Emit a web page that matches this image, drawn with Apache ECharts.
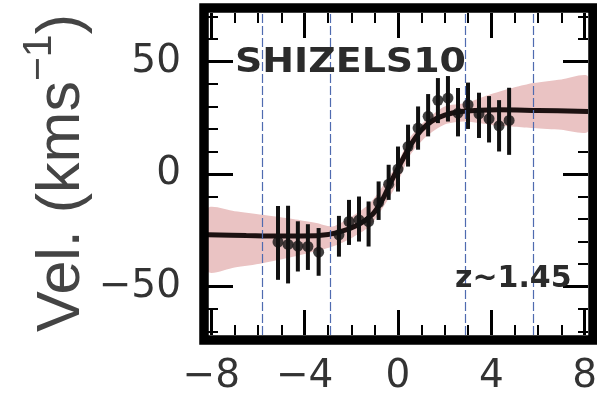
<!DOCTYPE html>
<html><head><meta charset="utf-8">
<script src="https://cdn.jsdelivr.net/npm/echarts@6/dist/echarts.min.js"></script>
<style>html,body{margin:0;padding:0;background:#fff}#c{width:597px;height:396px}</style>
</head><body><div id="c"></div>
<script>
// Tick values
const xMajorTicks = [-8, -4, 0, 4, 8];
const xMinorTicks = [-8, -7, -6, -5, -4, -3, -2, -1, 0, 1, 2, 3, 4, 5, 6, 7, 8];
const yMajorTicks = [-50, 0, 50];
const yMinorTicks = [-70, -60, -50, -40, -30, -20, -10, 0, 10, 20, 30, 40, 50, 60, 70];
// Vertical dashed reference lines (x positions)
const refLinesX = [-5.8, -2.9, 2.9, 5.8];
// Observed velocity points
const pointX = [-5.14, -4.71, -4.29, -3.86, -3.40, -2.53, -2.10, -1.67, -1.26, -0.83, -0.40, 0.00,
  0.43, 0.86, 1.29, 1.71, 2.14, 2.57, 3.00, 3.47, 3.90, 4.33, 4.76];
const pointV = [-30.2, -31.3, -32.0, -32.2, -34.7, -27.0, -21.1, -20.4, -21.1, -12.7, -4.5, 2.2,
  12.2, 20.4, 25.6, 32.7, 33.7, 27.0, 30.8, 26.7, 24.5, 21.4, 23.8];
const errLow = [-47.0, -48.6, -43.3, -42.6, -45.2, -36.7, -31.5, -30.0, -32.2, -20.4, -11.5, -7.8,
  3.3, 10.8, 16.7, 22.6, 23.3, 16.7, 20.0, 16.0, 14.0, 10.0, 8.5];
const errHigh = [-14.2, -14.1, -21.0, -22.3, -24.0, -18.6, -11.5, -10.0, -12.2, -3.3, 4.1, 12.2,
  21.9, 30.0, 35.5, 42.6, 43.5, 38.2, 40.6, 36.1, 34.6, 32.8, 38.3];
// Model rotation curve
const modelX = [-8.14, -6.5, -5.0, -3.5, -2.6, -1.7, -1.1, -0.7, -0.3, 0.15, 0.6, 1.0, 1.45, 2.0, 2.7, 3.5, 4.3, 6.0, 8.14];
const modelV = [-27.0, -27.3, -27.5, -27.4, -26.0, -22.5, -18.0, -12.0, -3.5, 5.5, 13.8, 19.5, 23.5, 26.2, 27.8, 28.3, 28.5, 28.2, 27.8];
// Model uncertainty band
const bandX = [-8.14, -7.0, -5.8, -4.5, -3.5, -2.8, -2.0, -1.2, -0.5, 0.0, 0.5, 1.2, 2.0, 2.9, 4.0, 5.0, 5.8, 7.0, 8.14];
const bandLow = [-43.3, -41.5, -39.6, -36.8, -34.2, -32.2, -28.5, -23.0, -12.5, -3.5, 8.0, 16.5, 22.0, 23.3, 21.8, 21.0, 20.4, 19.6, 18.9];
const bandHigh = [-15.2, -16.5, -18.1, -20.0, -21.8, -23.3, -19.0, -13.0, -3.0, 5.0, 16.0, 24.0, 30.0, 31.5, 35.5, 38.5, 40.4, 42.0, 43.3];

const X_MIN = -8.14, X_MAX = 8.14, Y_MIN = -71.5, Y_MAX = 71.5;
const fmt = v => (v < 0 ? '\u2212' + Math.abs(v) : String(v));
const labelFont = {fontSize: 39, fontFamily: 'DejaVu Sans', color: '#333'};

function xAx(pos, ticks, len, w, labels) {
  return {
    type: 'value', min: X_MIN, max: X_MAX, position: pos,
    axisLine: {show: false, onZero: false}, splitLine: {show: false},
    axisTick: {show: true, inside: true, length: len, customValues: ticks, lineStyle: {color: '#000', width: w}},
    axisLabel: labels ? Object.assign({show: true, customValues: ticks, formatter: fmt, margin: 22}, labelFont) : {show: false}
  };
}
function yAx(pos, ticks, len, w, labels) {
  return {
    type: 'value', min: Y_MIN, max: Y_MAX, position: pos,
    axisLine: {show: false, onZero: false}, splitLine: {show: false},
    axisTick: {show: true, inside: true, length: len, customValues: ticks, lineStyle: {color: '#000', width: w}},
    axisLabel: labels ? Object.assign({show: true, customValues: ticks, formatter: fmt, margin: 27}, labelFont) : {show: false}
  };
}

const chart = echarts.init(document.getElementById('c'), null, {renderer: 'canvas'});
chart.setOption({
  animation: false,
  backgroundColor: '#fff',
  grid: {left: 208, right: 9, top: 13, bottom: 61, containLabel: false, outerBoundsMode: 'none'},
  xAxis: [
    xAx('bottom', xMajorTicks, 25, 3, true),
    xAx('bottom', xMinorTicks, 10, 2, false),
    xAx('top', xMajorTicks, 25, 3, false),
    xAx('top', xMinorTicks, 10, 2, false)
  ],
  yAxis: [
    yAx('left', yMajorTicks, 25, 3, true),
    yAx('left', yMinorTicks, 10, 2, false),
    yAx('right', yMajorTicks, 25, 3, false),
    yAx('right', yMinorTicks, 10, 2, false)
  ],
  series: [
    {
      type: 'custom', name: 'band', clip: true, z: 1,
      data: [[0, 0]],
      renderItem: function (params, api) {
        const pts = [];
        for (let i = 0; i < bandX.length; i++) pts.push(api.coord([bandX[i], bandHigh[i]]));
        for (let i = bandX.length - 1; i >= 0; i--) pts.push(api.coord([bandX[i], bandLow[i]]));
        return {type: 'polygon', shape: {points: pts, smooth: 0.25}, style: {fill: '#eac3c3'}};
      },
      markLine: {
        silent: true, symbol: 'none', label: {show: false},
        lineStyle: {color: '#4f6bb0', width: 1.2, type: [9, 3]},
        data: refLinesX.map(x => ({xAxis: x}))
      }
    },
    {
      type: 'line', name: 'model', z: 3, smooth: 0.35, symbol: 'none',
      lineStyle: {color: '#1c1111', width: 5},
      data: modelX.map((x, i) => [x, modelV[i]])
    },
    {
      type: 'custom', name: 'errors', z: 4,
      data: pointX.map((x, i) => [x, errLow[i], errHigh[i]]),
      encode: {x: 0, y: [1, 2]},
      renderItem: function (params, api) {
        const x = api.value(0);
        const a = api.coord([x, api.value(1)]);
        const b = api.coord([x, api.value(2)]);
        return {type: 'line', shape: {x1: a[0], y1: a[1], x2: b[0], y2: b[1]}, style: {stroke: '#111', lineWidth: 4}};
      }
    },
    {
      type: 'scatter', name: 'points', z: 5, symbolSize: 11,
      itemStyle: {color: '#111'},
      data: pointX.map((x, i) => [x, pointV[i]])
    }
  ],
  graphic: [
    {type: 'rect', z: 100, shape: {x: 204, y: 8, width: 389, height: 332},
      style: {fill: 'none', stroke: '#000', lineWidth: 9.5}},
    {type: 'text', z: 101, x: 235, y: 63.5, scaleX: 1.15,
      style: {text: 'SHIZELS10', fontSize: 33, fontWeight: 'bold', fontFamily: 'DejaVu Sans', fill: '#2b2b2b',
        align: 'left', verticalAlign: 'middle'}},
    {type: 'text', z: 101, left: 455, top: 264,
      style: {text: 'z~1.45', fontSize: 30, fontWeight: 'bold', fontFamily: 'DejaVu Sans', fill: '#2b2b2b'}},
    {type: 'text', z: 101, x: 62, y: 173, rotation: Math.PI / 2,
      style: {
        text: '{a|Vel. (kms}{b|\u22121}{a|)}', align: 'center', verticalAlign: 'middle',
        rich: {
          a: {fontSize: 61, fontFamily: 'Liberation Sans', fill: '#444', lineHeight: 86},
          b: {fontSize: 41, fontFamily: 'Liberation Sans', fill: '#444', lineHeight: 41, verticalAlign: 'top'}
        }
      }}
  ]
});
</script>
</body></html>
